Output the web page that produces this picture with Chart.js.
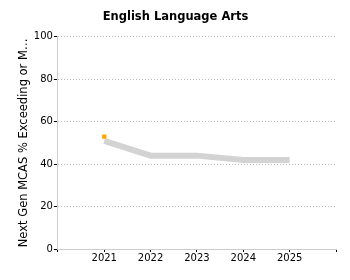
<!DOCTYPE html>
<html>
<head>
<meta charset="utf-8">
<script src="https://cdn.jsdelivr.net/npm/chart.js@4/dist/chart.umd.min.js"></script>
<style>
  html, body { margin: 0; padding: 0; background: #fff; }
  #wrap { width: 350px; height: 280px; }
</style>
</head>
<body>
<div id="wrap"><canvas id="chart-ela"></canvas></div>
<script>
// English Language Arts - Next Gen MCAS
const years = [2021, 2022, 2023, 2024, 2025];
const districtPct = [51, 44, 44, 42, 42];
const statePct = [53];
const yTicks = [0, 20, 40, 60, 80, 100];

Chart.defaults.font.family = 'Verdana, "DejaVu Sans", sans-serif';
Chart.defaults.font.size = 10;
Chart.defaults.color = '#000';

const ctx = document.getElementById('chart-ela');

new Chart(ctx, {
    type: 'line',
    data: {
        datasets: [
            {
                label: 'State',
                data: statePct.map((v, i) => ({ x: years[i], y: v })),
                borderColor: '#ffa500',
                backgroundColor: '#ffa500',
                pointStyle: 'rect',
                pointRadius: 3,
                borderWidth: 0,
                showLine: false
            },
            {
                label: 'District',
                data: districtPct.map((v, i) => ({ x: years[i], y: v })),
                borderColor: '#d3d3d3',
                borderWidth: 6,
                pointRadius: 0,
                fill: false,
                tension: 0
            }
        ]
    },
    options: {
        responsive: true,
        maintainAspectRatio: false,
        animation: false,
        layout: { padding: { top: 6, right: 14, left: 15, bottom: 16 } },
        plugins: {
            title: {
                display: true,
                text: 'English Language Arts',
                font: { weight: 'bold', size: 11.5 },
                padding: { top: 4, bottom: 13 }
            },
            legend: { display: false },
            tooltip: { enabled: false }
        },
        scales: {
            x: {
                type: 'linear',
                min: 2020,
                max: 2026,
                ticks: {
                    stepSize: 1,
                    padding: 0,
                    callback: v => (years.includes(v) ? String(v) : '')
                },
                grid: { drawOnChartArea: false, drawTicks: true, tickLength: 3, tickColor: '#000' },
                border: { color: '#ccc' }
            },
            y: {
                min: 0,
                max: 100,
                afterBuildTicks: axis => { axis.ticks = yTicks.map(v => ({ value: v })); },
                ticks: { padding: 1 },
                title: { display: true, text: 'Next Gen MCAS % Exceeding or M…', font: { size: 11.5 }, padding: 2 },
                grid: { color: '#bbb', tickColor: '#000', tickLength: 4, tickBorderDash: [] },
                border: { color: '#ccc', dash: [1, 2] }
            }
        }
    }
});
</script>
</body>
</html>
